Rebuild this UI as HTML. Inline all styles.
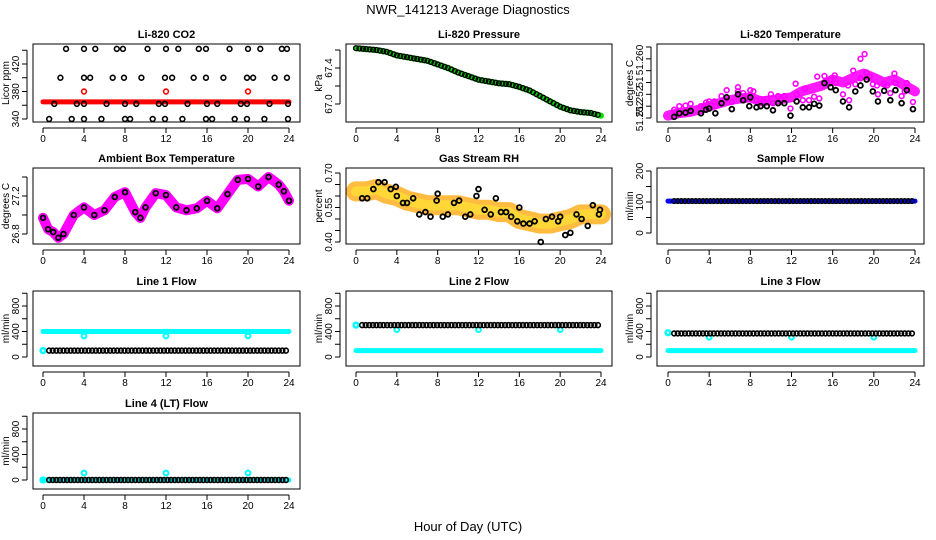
<!DOCTYPE html>
<html><head><meta charset="utf-8"><style>
html,body{margin:0;padding:0;background:#fff;}
svg{display:block;font-family:"Liberation Sans",Arial,sans-serif;}
</style></head><body>
<svg id="chart" width="936" height="540" viewBox="0 0 936 540" xmlns="http://www.w3.org/2000/svg">
<text x="468" y="14" text-anchor="middle" font-size="13">NWR_141213  Average Diagnostics</text>
<text x="468" y="531" text-anchor="middle" font-size="13">Hour of Day (UTC)</text>
</svg>
<script>
// ---- data ----
const xTicks = [0,4,8,12,16,20,24];
const co2Hi = [2.25,4.0,5.1,7.2,7.8,10.2,12.0,13.2,15.2,15.9,18.2,20.0,21.2,23.3,23.8];
const co2Mid = [1.7,4.0,4.6,6.8,7.9,9.6,11.9,12.6,14.7,15.9,17.6,19.9,20.5,22.6,23.8];
const co2Low = [1.1,3.3,4.0,6.2,8.0,9.1,11.3,11.9,14.1,16.0,17.0,19.3,19.9,22.1,23.9];
const co2Min = [0.6,2.8,4.0,5.7,8.0,8.5,10.7,11.9,13.6,15.9,16.5,18.7,19.9,21.6,23.9];
const co2Levels = [442,400,362,340];
const co2RedLevel = 365;
const co2RedOut = [380,380,380];
const calHours = [4,12,20];
const hours = [0,1,2,3,4,5,6,7,8,9,10,11,12,13,14,15,16,17,18,19,20,21,22,23,24];
const pressure = [67.62,67.61,67.60,67.58,67.54,67.52,67.50,67.48,67.44,67.40,67.35,67.31,67.27,67.25,67.23,67.22,67.19,67.15,67.09,67.03,66.97,66.93,66.91,66.90,66.87];
const ambHours = [0,0.5,1,1.5,2,3,4,5,6,7,8,9,9.5,10,11,12,13,14,15,16,17,18,19,20,21,22,23,23.5,24];
const ambient = [26.97,26.85,26.82,26.76,26.80,27.0,27.08,27.0,27.05,27.19,27.24,27.03,26.97,27.08,27.23,27.21,27.08,27.05,27.07,27.15,27.07,27.22,27.37,27.38,27.30,27.40,27.32,27.25,27.15];
const liTemp = [51.2524,51.2528,51.2530,51.2534,51.2540,51.2545,51.2550,51.2553,51.2555,51.2548,51.2550,51.2552,51.2555,51.2565,51.2570,51.2575,51.2585,51.2580,51.2588,51.2595,51.2588,51.2580,51.2585,51.2575,51.2565];
const liTempBlackT = [0.6,1.1,1.7,2.2,3.2,3.7,4.0,4.6,5.2,5.7,6.2,6.8,7.3,7.9,8.0,8.6,9.0,9.6,10.2,10.7,11.3,11.9,12.5,13.1,13.7,14.2,14.7,15.2,15.8,16.3,17.0,17.6,18.2,18.7,19.3,19.9,20.4,21.0,21.6,22.1,22.7,23.2,23.8];
const liTempBlack = [51.2522,51.2528,51.2529,51.2532,51.2528,51.2534,51.2536,51.2528,51.2545,51.2555,51.2535,51.2560,51.2550,51.2540,51.2555,51.2538,51.2540,51.2540,51.2533,51.2545,51.2545,51.2524,51.2548,51.2538,51.2538,51.2544,51.2541,51.2579,51.2572,51.2567,51.2548,51.2538,51.2565,51.2575,51.2585,51.2565,51.2548,51.2566,51.2550,51.2567,51.2545,51.2567,51.2535];
const liTempPinkT = [0.8,2.0,3.5,4.5,5.5,6.8,7.5,8.3,9.3,10.0,11.0,12.4,13.3,14.5,15.5,16.2,17.5,18.0,18.7,19.1,19.6,20.3,21.3,22.0,23.0];
const liTempPink = [51.2530,51.2532,51.2540,51.2548,51.2550,51.2565,51.2552,51.2565,51.2548,51.2560,51.2552,51.2578,51.2570,51.2590,51.2580,51.2592,51.2575,51.2600,51.2620,51.2628,51.2590,51.2575,51.2575,51.2595,51.2565];
const rh = [0.62,0.62,0.63,0.61,0.60,0.58,0.57,0.56,0.56,0.56,0.56,0.55,0.54,0.54,0.53,0.53,0.50,0.49,0.48,0.48,0.49,0.50,0.52,0.52,0.52];
const rhBlackT = [0.6,1.1,1.7,2.2,2.8,3.4,3.9,4.0,4.6,5.0,5.6,6.2,6.8,7.3,7.9,8.0,8.5,9.0,9.6,10.1,10.7,11.2,11.8,12.0,12.6,13.2,13.7,14.2,14.7,15.2,15.8,16.0,16.4,17.0,17.5,18.1,18.6,19.2,19.8,20.0,20.5,21.0,21.6,22.1,22.7,23.2,23.8,23.9];
const rhBlack = [0.59,0.59,0.63,0.66,0.66,0.63,0.64,0.60,0.57,0.57,0.59,0.52,0.53,0.51,0.58,0.61,0.51,0.52,0.57,0.58,0.51,0.52,0.60,0.63,0.54,0.52,0.59,0.53,0.53,0.51,0.49,0.55,0.48,0.48,0.49,0.40,0.50,0.51,0.49,0.51,0.43,0.44,0.52,0.50,0.47,0.56,0.52,0.54];
const sampleFlow = 103;
const line1Black = 100, line1Cyan = 400, line1CyanOut = 330;
const line2Black = 500, line2Cyan = 100, line2CyanOut = 430;
const line3Black = 370, line3Cyan = 100, line3CyanOut = 310;
const line4Black = 0, line4Cyan = 0, line4CyanOut = 110;

// ---- layout ----
const svg = document.getElementById('chart');
const NS = 'http://www.w3.org/2000/svg';
const cols = [{l:33,r:300,x0:43,x1:289},{l:346,r:612,x0:356,x1:601},{l:657,r:924,x0:668,x1:915}];
const rows = [{t:44,b:122},{t:168,b:244},{t:291,b:366},{t:413,b:489}];
function mk(tag, attrs, parent){const e=document.createElementNS(NS,tag);for(const k in attrs)e.setAttribute(k,attrs[k]);(parent||svg).appendChild(e);return e;}

function panel(ci, ri, title, ylab, yv0, yp0, yv1, yp1, ticks, labels, name, labelPos){
  const c=cols[ci], r=rows[ri];
  const g=mk('g',{});
  
  
  const xs=t=>c.x0+(t/24)*(c.x1-c.x0);
  const ys=v=>yp0+(v-yv0)*(yp1-yp0)/(yv1-yv0);
  const plot=mk('g',{},g);
  
  
  const box=mk('rect',{x:c.l,y:r.t,width:c.r-c.l,height:r.b-r.t,fill:'none',stroke:'#000','stroke-width':1},g);
  
  
  const tt=mk('text',{x:(c.l+c.r)/2,y:r.t-6,'text-anchor':'middle','font-size':11,'font-weight':'bold'},g);
  tt.textContent=title;
  
  
  const xa=mk('g',{},g);
  
  
  mk('line',{x1:xs(0),x2:xs(24),y1:r.b+6,y2:r.b+6,stroke:'#000'},xa);
  xTicks.forEach(t=>{
    mk('line',{x1:xs(t),x2:xs(t),y1:r.b+6,y2:r.b+11,stroke:'#000'},xa);
    const tx=mk('text',{x:xs(t),y:r.b+20,'text-anchor':'middle','font-size':10},xa);
    tx.textContent=t;
  });
  const ya=mk('g',{},g);
  
  
  const tp=ticks.map(ys);
  mk('line',{x1:c.l-6,x2:c.l-6,y1:Math.min(...tp),y2:Math.max(...tp),stroke:'#000'},ya);
  ticks.forEach((v,i)=>{
    const y=ys(v);
    mk('line',{x1:c.l-11,x2:c.l-6,y1:y,y2:y,stroke:'#000'},ya);
    if(labels[i]!==''){
      const ly = labelPos ? labelPos[i] : y;
      const tx=mk('text',{x:0,y:0,'text-anchor':'middle','font-size':10,transform:`translate(${c.l-14},${ly}) rotate(-90)`},ya);
      tx.textContent=labels[i];
    }
  });
  const yl=mk('text',{x:0,y:0,'text-anchor':'middle','font-size':10,transform:`translate(${c.l-24},${(r.t+r.b)/2}) rotate(-90)`},g);
  yl.textContent=ylab;
  
  
  return {g:plot,xs,ys};
}
function circ(p,t,v,col,w){mk('circle',{cx:p.xs(t),cy:p.ys(v),r:2.4,fill:'none',stroke:col,'stroke-width':w||1.6},p.g);}
function band(p,ts,vs,col,w,op){mk('polyline',{points:ts.map((t,i)=>p.xs(t)+','+p.ys(vs[i])).join(' '),fill:'none',stroke:col,'stroke-width':w,'stroke-linejoin':'round','stroke-linecap':'round',opacity:op||1},p.g);}
function dense(p,v,col,t0,t1,step,w){for(let t=t0;t<=t1+1e-6;t+=step)circ(p,t,v,col,w);}

// CO2
let p=panel(0,0,'Li-820 CO2','Licor ppm',340,119,420,64,[340,360,380,400,420,440],['340','','380','','420',''],'co2');
band(p,[0,24],[co2RedLevel,co2RedLevel],'#f00',5);
calHours.forEach((t,i)=>circ(p,t,co2RedOut[i],'#f00'));
[co2Hi,co2Mid,co2Low,co2Min].forEach((arr,k)=>arr.forEach(t=>circ(p,t,co2Levels[k],'#000')));

// Pressure
p=panel(1,0,'Li-820 Pressure','kPa',67.0,104,67.4,68,[67.0,67.2,67.4,67.6],['67.0','','67.4',''],'pressure');
band(p,hours,pressure,'#00e000',6);
for(let i=0;i<hours.length-1;i++){for(let f=0;f<1;f+=0.34){circ(p,hours[i]+f,pressure[i]+(pressure[i+1]-pressure[i])*f,'#000',1.4);}}

// Li-820 temperature
p=panel(2,0,'Li-820 Temperature','degrees C',51.252,118,51.264,47,[51.252,51.254,51.256,51.258,51.260,51.262,51.264],['51.252','51.252','','51','','51.260',''],'li820-temp',[116,101,0,82,0,60,0]);
band(p,hours,liTemp,'#ff00ff',10,0.9);
liTempPinkT.forEach((t,i)=>circ(p,t,liTempPink[i],'#ff00ff',1.6));
liTempBlackT.forEach((t,i)=>circ(p,t,liTempBlack[i]+0.0012,'#ff00ff',1.6));
liTempBlackT.forEach((t,i)=>circ(p,t,liTempBlack[i],'#000',1.8));

// Ambient
p=panel(0,1,'Ambient Box Temperature','degrees C',26.8,234,27.2,196,[26.8,27.0,27.2,27.4],['26.8','','27.2',''],'ambient-temp');
band(p,ambHours,ambient,'#ff00ff',10);
ambHours.forEach((t,i)=>circ(p,t,ambient[i],'#000',1.8));

// RH
p=panel(1,1,'Gas Stream RH','percent',0.40,242,0.70,173,[0.40,0.45,0.50,0.55,0.60,0.65,0.70],['0.40','','','0.55','','','0.70'],'gas-rh');
band(p,hours,rh,'#ffb020',20,0.85);
band(p,hours,rh,'#ffdd33',10,0.8);
rhBlackT.forEach((t,i)=>circ(p,t,rhBlack[i],'#000',1.8));

// Sample flow
p=panel(2,1,'Sample Flow','ml/min',0,233,200,171,[0,50,100,150,200],['0','','100','','200'],'sample-flow');
band(p,[0,24],[sampleFlow,sampleFlow],'#0000ff',5);
dense(p,sampleFlow,'#000',0.6,24,0.35,1.3);

// Line flows
const flowTicks=[0,200,400,600,800,1000], flowLabels=['0','','400','','800',''];
function flowPanel(ci,ri,title,black,cyan,out,name,blackFirst){
  const q=panel(ci,ri,title,'ml/min',0,rows[ri].b-9,800,rows[ri].b-60,flowTicks,flowLabels,name);
  band(q,[0,24],[cyan,cyan],'#00ffff',5);
  calHours.forEach(t=>circ(q,t,out,'#00ffff',2));
  circ(q,0,blackFirst,'#00ffff',2.5);
  dense(q,black,'#000',0.6,24,0.35,1.6);
}
flowPanel(0,2,'Line 1 Flow',line1Black,line1Cyan,line1CyanOut,'line1-flow',line1Black);
flowPanel(1,2,'Line 2 Flow',line2Black,line2Cyan,line2CyanOut,'line2-flow',line2Black);
flowPanel(2,2,'Line 3 Flow',line3Black,line3Cyan,line3CyanOut,'line3-flow',line3Black+10);
flowPanel(0,3,'Line 4 (LT) Flow',line4Black,line4Cyan,line4CyanOut,'line4-flow',line4Black);
</script>
</body></html>
